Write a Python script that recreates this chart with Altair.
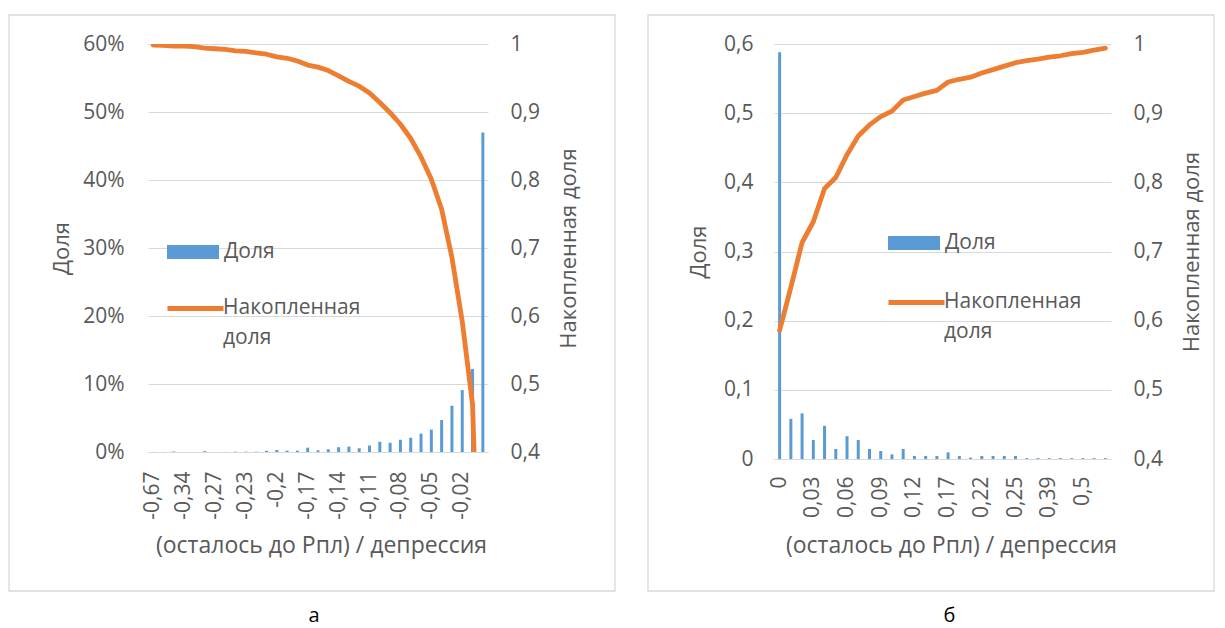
import altair as alt
import pandas as pd

# ---------------- data ----------------
left_categories = ["-0,67", "-0,45", "-0,38", "-0,34", "-0,31", "-0,29", "-0,27", "-0,26", "-0,25",
                   "-0,23", "-0,22", "-0,21", "-0,2", "-0,19", "-0,18", "-0,17", "-0,16", "-0,15",
                   "-0,14", "-0,13", "-0,12", "-0,11", "-0,1", "-0,09", "-0,08", "-0,07", "-0,06",
                   "-0,05", "-0,04", "-0,03", "-0,02", "-0,01", "0"]
left_share = [0.0001, 0.0001, 0.0008, 0.0001, 0.0001, 0.0012, 0.0001, 0.0001, 0.0005,
              0.0005, 0.0005, 0.0018, 0.003, 0.002, 0.002, 0.0063, 0.0025, 0.004,
              0.007, 0.008, 0.0055, 0.0095, 0.015, 0.0135, 0.018, 0.021, 0.027,
              0.033, 0.047, 0.068, 0.091, 0.122, 0.470]
left_cum = [0.9985, 0.998, 0.997, 0.997, 0.996, 0.994, 0.993, 0.992, 0.990,
            0.989, 0.987, 0.985, 0.981, 0.979, 0.975, 0.969, 0.966, 0.961,
            0.953, 0.945, 0.938, 0.928, 0.914, 0.899, 0.882, 0.861, 0.834,
            0.801, 0.757, 0.686, 0.592, 0.470, 0.0]
left_tick_labels = ["-0,67", "-0,34", "-0,27", "-0,23", "-0,2", "-0,17", "-0,14", "-0,11",
                    "-0,08", "-0,05", "-0,02"]

right_categories = ["0", "0,01", "0,02", "0,03", "0,04", "0,05", "0,06", "0,07", "0,08", "0,09",
                    "0,1", "0,11", "0,12", "0,14", "0,15", "0,17", "0,18", "0,2", "0,22", "0,23",
                    "0,24", "0,25", "0,28", "0,33", "0,39", "0,42", "0,46", "0,5", "0,55", "0,6"]
right_share = [0.588, 0.058, 0.066, 0.0275, 0.048, 0.0145, 0.033, 0.0275, 0.0145, 0.0116,
               0.0067, 0.0145, 0.0043, 0.0043, 0.0043, 0.0096, 0.0043, 0.002, 0.0043, 0.0043,
               0.0043, 0.0043, 0.0012, 0.0012, 0.0012, 0.0012, 0.0012, 0.0012, 0.0012, 0.0012]
right_cum = [0.586, 0.648, 0.713, 0.743, 0.791, 0.807, 0.840, 0.867, 0.883, 0.895,
             0.903, 0.919, 0.924, 0.929, 0.933, 0.945, 0.949, 0.952, 0.958, 0.963,
             0.968, 0.973, 0.976, 0.978, 0.981, 0.983, 0.986, 0.988, 0.991, 0.994]
right_tick_labels = ["0", "0,03", "0,06", "0,09", "0,12", "0,17", "0,22", "0,25", "0,39", "0,5"]

share_name = "Доля"
cum_name = "Накопленная доля"
x_title = "(осталось до Рпл) / депрессия"
panel_labels = ["а", "б"]

left_axis_values = [0, 0.1, 0.2, 0.3, 0.4, 0.5, 0.6]
right_axis_values = [0.4, 0.5, 0.6, 0.7, 0.8, 0.9, 1.0]

# ---------------- style ----------------
FONT = "Open Sans"
TXT = "#595959"
BLUE = "#5b9bd5"
ORANGE = "#ed7d31"
GRID = "#d9d9d9"
COMMA = "replace(format(datum.value, '~g'), '.', ',')"


def panel(cats, share, cum, ticks, left_pct, width, height, frame, leg, xt, lab_pad, label, title_dx):
    df = pd.DataFrame({"cat": cats, "share": share, "cum": cum,
                       "s1": share_name, "s2": cum_name})
    base = alt.Chart(df)
    x = alt.X("cat:N", sort=cats,
              scale=alt.Scale(paddingInner=0, paddingOuter=0),
              axis=alt.Axis(values=ticks, labelAngle=270, labelPadding=lab_pad,
                            ticks=False, grid=False, domainColor=GRID, domainWidth=1,
                            title=x_title, titleX=xt[0], titleY=xt[1], titleFontSize=23,
                            titleBaseline="middle", titleAlign="center"))
    if left_pct:
        lax = alt.Axis(values=left_axis_values, format=".0%", grid=True, gridColor=GRID,
                       domain=False, ticks=False, labelPadding=24, title=share_name,
                       titleAngle=270, titleX=-87, titleY=height / 2,
                       titleBaseline="middle", titleAlign="center")
    else:
        lax = alt.Axis(values=left_axis_values, labelExpr=COMMA, grid=True, gridColor=GRID,
                       domain=False, ticks=False, labelPadding=21, title=share_name,
                       titleAngle=270, titleX=-76, titleY=height / 2,
                       titleBaseline="middle", titleAlign="center")
    bars = base.mark_bar(size=3).encode(
        x=x,
        y=alt.Y("share:Q", scale=alt.Scale(domain=[0, 0.6], nice=False), axis=lax),
        fill=alt.Fill("s1:N", scale=alt.Scale(range=[BLUE]),
                      legend=alt.Legend(title=None, orient="none", legendX=leg[0], legendY=leg[1],
                                        symbolType="M-1,-0.27H1V0.27H-1Z", symbolSize=2704,
                                        symbolStrokeWidth=0, labelOffset=5, padding=0,
                                        labelFont=FONT, labelFontSize=21, labelColor=TXT)),
    )
    rax = alt.Axis(values=right_axis_values, labelExpr=COMMA, orient="right", grid=False,
                   domain=False, ticks=False, labelPadding=22, title=cum_name,
                   titleAngle=270, titleX=80, titleY=height / 2,
                   titleBaseline="middle", titleAlign="center")
    line = base.mark_line(strokeWidth=4.8, strokeCap="round", strokeJoin="round", clip=True).encode(
        x=alt.X("cat:N", sort=cats),
        y=alt.Y("cum:Q", scale=alt.Scale(domain=[0.4, 1.0], nice=False), axis=rax),
        stroke=alt.Stroke("s2:N", scale=alt.Scale(range=[ORANGE]),
                          legend=alt.Legend(title=cum_name.split(" "), titleOrient="right",
                                            titleAnchor="start", titleBaseline="top",
                                            titleLineHeight=30, titlePadding=-11,
                                            titleFont=FONT, titleFontSize=21, titleColor=TXT,
                                            titleFontWeight="normal",
                                            orient="none", legendX=leg[2], legendY=leg[3],
                                            symbolType="M-1,-0.68H1", symbolSize=3136,
                                            symbolStrokeWidth=5, labelOffset=0, padding=0,
                                            labelExpr="''", labelFontSize=1)),
    )
    box = alt.Chart(alt.Data(values=[{"f": 1}])).mark_rect(
        filled=False, stroke=GRID, strokeWidth=1.3).encode(
        x=alt.value(frame[0]), x2=alt.value(frame[1]),
        y=alt.value(frame[2]), y2=alt.value(frame[3]))
    return alt.layer(box, bars, line).resolve_scale(
        y="independent", fill="independent", stroke="independent").properties(
        width=width, height=height,
        title=alt.TitleParams(label, orient="bottom", offset=14, anchor="middle",
                              frame="group", dx=title_dx, font=FONT, fontSize=20,
                              fontWeight="normal", color="#000000"))


left = panel(left_categories, left_share, left_cum, left_tick_labels, True,
             340, 408, (-139, 467, -29, 547), (19, 182, 17, 253), (173, 93), 19,
             panel_labels[0], -4)
right = panel(right_categories, right_share, right_cum, right_tick_labels, False,
              337, 415, (-126, 440, -29, 547), (114, 173, 112, 247), (177, 86), 17,
              panel_labels[1], 7)

chart = alt.hconcat(left, right, spacing=31).properties(
    padding={"left": 0, "top": 6, "right": 0, "bottom": 4}
).configure_view(stroke=None).configure_axis(
    labelFont=FONT, titleFont=FONT, labelFontSize=21, titleFontSize=22,
    labelColor=TXT, titleColor=TXT, titleFontWeight="normal"
)

chart.save("out.html", embed_options={"renderer": "svg", "actions": False})
